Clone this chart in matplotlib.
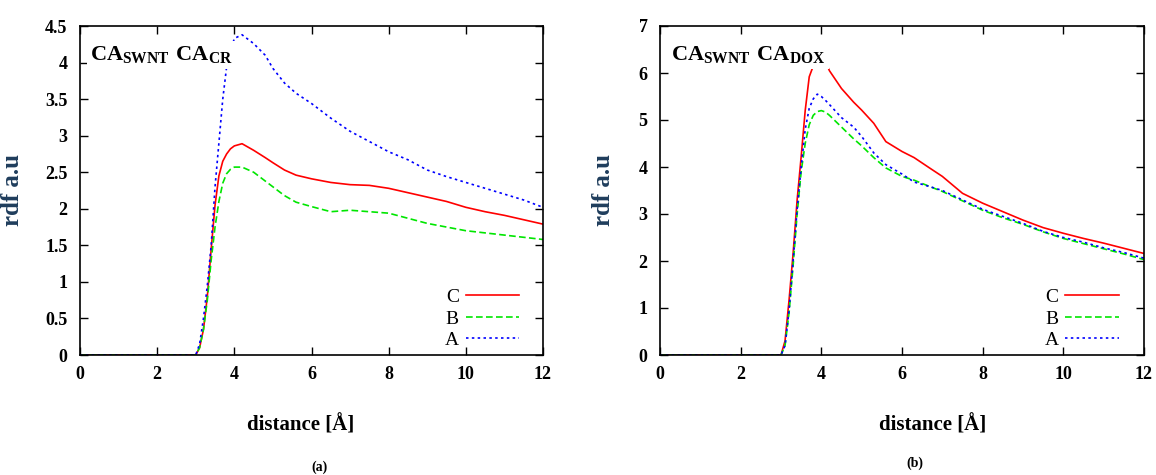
import matplotlib
matplotlib.use("Agg")
import matplotlib.pyplot as plt

plt.rcParams['font.family'] = ['Liberation Serif', 'DejaVu Serif']
plt.rcParams['mathtext.fontset'] = 'custom'
plt.rcParams['mathtext.rm'] = 'Liberation Serif:bold'
plt.rcParams['mathtext.bf'] = 'Liberation Serif:bold'

# panel (a): CA_SWNT - CA_CR
dist_a = [0, 3.0, 3.1, 3.2, 3.3, 3.4, 3.5, 3.6, 3.7, 3.8, 3.9, 4.0, 4.2, 4.5, 4.8,
          5.0, 5.3, 5.6, 6.0, 6.5, 7.0, 7.5, 8.0, 8.5, 9.0, 9.5, 10.0, 10.5, 11.0,
          11.5, 12.0]
rdf_a_C = [0, 0, 0.1, 0.35, 0.8, 1.45, 2.05, 2.45, 2.65, 2.75, 2.82, 2.86, 2.89,
           2.80, 2.70, 2.63, 2.53, 2.46, 2.41, 2.36, 2.33, 2.32, 2.28, 2.22, 2.16,
           2.10, 2.02, 1.96, 1.91, 1.85, 1.79]
rdf_a_B = [0, 0, 0.1, 0.35, 0.75, 1.3, 1.75, 2.1, 2.35, 2.48, 2.54, 2.57, 2.57,
           2.50, 2.38, 2.30, 2.18, 2.09, 2.03, 1.96, 1.98, 1.96, 1.94, 1.87, 1.80,
           1.75, 1.70, 1.67, 1.64, 1.61, 1.58]
rdf_a_A = [0, 0, 0.15, 0.5, 0.95, 1.5, 2.3, 2.9, 3.5, 3.94, 4.15, 4.33, 4.38,
           4.26, 4.10, 3.92, 3.72, 3.58, 3.44, 3.24, 3.06, 2.92, 2.78, 2.67, 2.53,
           2.44, 2.36, 2.28, 2.20, 2.12, 2.02]

# panel (b): CA_SWNT - CA_DOX
dist_b = [0, 3.0, 3.1, 3.2, 3.3, 3.4, 3.5, 3.6, 3.7, 3.8, 3.9, 4.0, 4.1, 4.2, 4.5,
          4.8, 5.0, 5.3, 5.6, 6.0, 6.3, 6.7, 7.0, 7.5, 8.0, 8.5, 9.0, 9.5, 10.0,
          10.5, 11.0, 11.5, 12.0]
rdf_b_C = [0, 0, 0.3, 1.17, 2.16, 3.3, 4.22, 5.2, 5.92, 6.15, 6.3, 6.35, 6.25,
           6.05, 5.67, 5.38, 5.21, 4.93, 4.54, 4.33, 4.20, 3.97, 3.80, 3.44, 3.23,
           3.05, 2.87, 2.71, 2.59, 2.48, 2.38, 2.27, 2.16]
rdf_b_B = [0, 0, 0.2, 0.9, 1.9, 3.0, 3.9, 4.5, 4.9, 5.1, 5.18, 5.2, 5.17, 5.1,
           4.85, 4.6, 4.45, 4.2, 3.98, 3.8, 3.72, 3.58, 3.48, 3.28, 3.08, 2.92,
           2.78, 2.62, 2.48, 2.37, 2.26, 2.15, 2.03]
rdf_b_A = [0, 0, 0.2, 0.95, 2.0, 3.1, 4.0, 4.8, 5.25, 5.45, 5.55, 5.5, 5.42, 5.33,
           5.05, 4.85, 4.65, 4.3, 4.05, 3.85, 3.68, 3.58, 3.5, 3.3, 3.1, 2.95, 2.8,
           2.63, 2.5, 2.4, 2.28, 2.18, 2.06]

series_labels = ['C', 'B', 'A']
x_ticks = [0, 2, 4, 6, 8, 10, 12]
y_ticks_a = [0, 0.5, 1, 1.5, 2, 2.5, 3, 3.5, 4, 4.5]
y_ticks_b = [0, 1, 2, 3, 4, 5, 6, 7]

W, H = 1156, 475


def draw_panel(ax, x, ys, yticks, ymax, title, xlab_x):
    styles = [dict(color='#ff0000', ls='-'),
              dict(color='#00e600', ls=(0, (4, 2))),
              dict(color='#0000ff', ls=(0, (1.5, 2)))]
    for y, lab, st in zip(ys, series_labels, styles):
        ax.plot(x, y, lw=1.2, label=lab, **st)
    ax.set_xlim(0, 12)
    ax.set_ylim(0, ymax)
    ax.set_xticks(x_ticks)
    ax.set_yticks(yticks)
    ax.set_yticklabels([f'{t:g}' for t in yticks])
    ax.tick_params(direction='in', length=6, width=1, top=True, right=True,
                   labelsize=13)
    ax.tick_params(axis='x', pad=8)
    ax.tick_params(axis='y', pad=9)
    for lab in ax.get_xticklabels() + ax.get_yticklabels():
        lab.set_fontweight('bold')
    for s in ax.spines.values():
        s.set_linewidth(1.2)
    ax.set_ylabel('rdf a.u', fontsize=18, fontweight='bold', color='#1f3d5c')
    ax.set_xlabel('distance [Å]', fontsize=15, fontweight='bold')
    ax.xaxis.label.set_verticalalignment('center')
    ax.xaxis.set_label_coords(xlab_x, -0.213)
    # white box behind the label hides the curve tops, as in the source figure
    ax.text(0.022, 0.912, title, transform=ax.transAxes, fontsize=16,
            va='center', ha='left', zorder=5,
            bbox=dict(facecolor='white', edgecolor='none', pad=2.5))
    ax.legend(loc='lower right', frameon=False, markerfirst=False,
              handlelength=2.75, fontsize=14, labelspacing=0.2,
              borderaxespad=0, borderpad=0, handletextpad=0.35,
              bbox_to_anchor=(1 - 25 / 483, 0.018))


fig = plt.figure(figsize=(W / 100, H / 100), dpi=100)
ax1 = fig.add_axes([80 / W, 1 - 355 / H, 463 / W, 329 / H])
ax2 = fig.add_axes([660 / W, 1 - 355 / H, 484 / W, 329 / H])

draw_panel(ax1, dist_a, [rdf_a_C, rdf_a_B, rdf_a_A], y_ticks_a, 4.5,
           r'$\mathbf{CA_{SWNT}\ CA_{CR}}$', 0.477)
draw_panel(ax2, dist_b, [rdf_b_C, rdf_b_B, rdf_b_A], y_ticks_b, 7,
           r'$\mathbf{CA_{SWNT}\ CA_{DOX}}$', 0.564)
ax1.yaxis.set_label_coords(-(80 - 24) / 463, 0.5)
ax2.yaxis.set_label_coords(-(660 - 615) / 484, 0.5)

fig.text(319 / W, 1 - 467 / H, '(a)', fontsize=10, fontweight='bold',
         ha='center', va='center')
fig.text(915 / W, 1 - 463 / H, '(b)', fontsize=10, fontweight='bold',
         ha='center', va='center')

fig.savefig('out.png', dpi=100)
